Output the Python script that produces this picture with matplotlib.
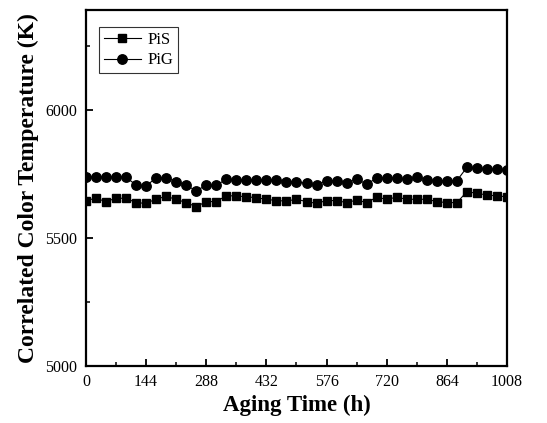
import matplotlib
matplotlib.use("Agg")
import matplotlib.pyplot as plt
import numpy as np
from matplotlib.ticker import MultipleLocator

hours = list(range(0, 1009, 24))

pis = [5646, 5655, 5642, 5655, 5655, 5638, 5635, 5652, 5662, 5651,
       5638, 5622, 5642, 5642, 5665, 5664, 5661, 5657, 5651, 5646,
       5644, 5651, 5642, 5635, 5646, 5646, 5638, 5648, 5638, 5659,
       5651, 5659, 5651, 5651, 5651, 5642, 5638, 5638, 5681, 5674,
       5668, 5664, 5661]

pig = [5737, 5737, 5737, 5737, 5737, 5707, 5703, 5735, 5735, 5720,
       5705, 5685, 5705, 5705, 5730, 5727, 5727, 5727, 5727, 5727,
       5720, 5720, 5713, 5707, 5724, 5724, 5716, 5729, 5711, 5733,
       5733, 5733, 5729, 5737, 5727, 5724, 5724, 5724, 5776, 5772,
       5768, 5768, 5766]

xticks = [0, 144, 288, 432, 576, 720, 864, 1008]
yticks = [5000, 5500, 6000]

serif = ["Liberation Serif", "DejaVu Serif"]
plt.rcParams["font.family"] = serif

fig = plt.figure(figsize=(5.47, 4.23), dpi=100)
ax = fig.add_axes([0.157, 0.135, 0.770, 0.841])

ax.plot(hours, pis, color="black", lw=0.8, marker="s", ms=5.5, label="PiS")
ax.plot(hours, pig, color="black", lw=0.8, marker="o", ms=6.8, label="PiG")

ax.set_xlim(0, 1008)
ax.set_ylim(5000, 6390)
ax.set_xticks(xticks)
ax.set_yticks(yticks)
ax.xaxis.set_minor_locator(MultipleLocator(72))
ax.yaxis.set_minor_locator(MultipleLocator(250))
ax.tick_params(which="major", direction="in", length=5, width=1.3, labelsize=11.5, pad=6)
ax.tick_params(which="minor", direction="in", length=3, width=1.1)
for s in ax.spines.values():
    s.set_linewidth(1.6)

ax.set_xlabel("Aging Time (h)", fontsize=16.5, fontweight="bold", labelpad=3)
ax.set_ylabel("Correlated Color Temperature (K)", fontsize=17, fontweight="bold", labelpad=5)

leg = ax.legend(loc="upper left", bbox_to_anchor=(0.031, 0.952), borderaxespad=0,
                fontsize=12, frameon=True, fancybox=False, edgecolor="black",
                handlelength=2.2, borderpad=0.3, labelspacing=0.25, handletextpad=0.4)
leg.get_frame().set_linewidth(0.8)

fig.savefig("out.png", dpi=100)
